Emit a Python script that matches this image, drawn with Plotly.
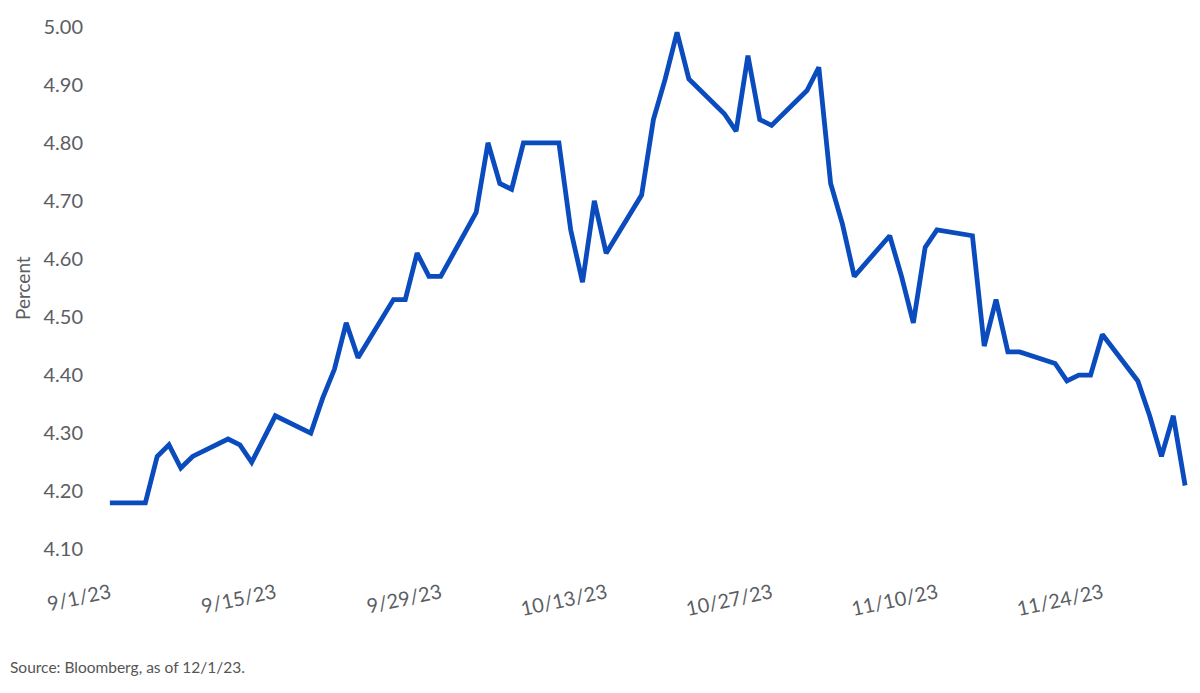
import plotly.graph_objects as go

dates = [
    "2023-09-01", "2023-09-04", "2023-09-05", "2023-09-06", "2023-09-07", "2023-09-08",
    "2023-09-11", "2023-09-12", "2023-09-13", "2023-09-14", "2023-09-15",
    "2023-09-18", "2023-09-19", "2023-09-20", "2023-09-21", "2023-09-22",
    "2023-09-25", "2023-09-26", "2023-09-27", "2023-09-28", "2023-09-29",
    "2023-10-02", "2023-10-03", "2023-10-04", "2023-10-05", "2023-10-06",
    "2023-10-09", "2023-10-10", "2023-10-11", "2023-10-12", "2023-10-13",
    "2023-10-16", "2023-10-17", "2023-10-18", "2023-10-19", "2023-10-20",
    "2023-10-23", "2023-10-24", "2023-10-25", "2023-10-26", "2023-10-27",
    "2023-10-30", "2023-10-31", "2023-11-01", "2023-11-02", "2023-11-03",
    "2023-11-06", "2023-11-07", "2023-11-08", "2023-11-09", "2023-11-10",
    "2023-11-13", "2023-11-14", "2023-11-15", "2023-11-16", "2023-11-17",
    "2023-11-20", "2023-11-21", "2023-11-22", "2023-11-23", "2023-11-24",
    "2023-11-27", "2023-11-28", "2023-11-29", "2023-11-30", "2023-12-01",
]

yields = [
    4.18, 4.18, 4.26, 4.28, 4.24, 4.26,
    4.29, 4.28, 4.25, 4.29, 4.33,
    4.30, 4.36, 4.41, 4.49, 4.43,
    4.53, 4.53, 4.61, 4.57, 4.57,
    4.68, 4.80, 4.73, 4.72, 4.80,
    4.80, 4.65, 4.56, 4.70, 4.61,
    4.71, 4.84, 4.91, 4.99, 4.91,
    4.85, 4.82, 4.95, 4.84, 4.83,
    4.89, 4.93, 4.73, 4.66, 4.57,
    4.64, 4.57, 4.49, 4.62, 4.65,
    4.64, 4.45, 4.53, 4.44, 4.44,
    4.42, 4.39, 4.40, 4.40, 4.47,
    4.39, 4.33, 4.26, 4.33, 4.21,
]

y_title = "Percent"
source_note = "Source: Bloomberg, as of 12/1/23."

TEXT = "#5b5e63"
FONT = "Lato"

fig = go.Figure()
fig.add_trace(go.Scatter(
    x=dates, y=yields, mode="lines",
    line=dict(color="#0a4bbd", width=4.8),
    hoverinfo="skip", showlegend=False,
))

fig.update_layout(
    width=1192, height=685,
    margin=dict(l=96, r=9, t=7, b=132),
    paper_bgcolor="white", plot_bgcolor="white",
    font=dict(family=FONT, size=20, color=TEXT),
    xaxis=dict(
        type="date", automargin=False,
        range=["2023-08-31 12:00", "2023-12-01 12:00"],
        tick0="2023-09-01", dtick=14 * 24 * 3600 * 1000,
        tickformat="%-m/%-d/%y", tickangle=-12,
        showgrid=False, zeroline=False, showline=False, ticks="",
        tickfont=dict(family=FONT, size=20, color=TEXT),
        ticklabelstandoff=16,
    ),
    yaxis=dict(
        automargin=False,
        range=[4.08, 5.02], tick0=4.1, dtick=0.1, tickformat=".2f",
        showgrid=False, zeroline=False, showline=False, ticks="",
        tickfont=dict(family=FONT, size=20, color=TEXT),
        ticklabelstandoff=20,
    ),
    annotations=[
        dict(text=y_title, xref="paper", yref="paper", x=0, y=0.5,
             xanchor="center", yanchor="middle", xshift=-82, textangle=-90,
             showarrow=False, font=dict(family=FONT, size=19, color=TEXT)),
        dict(text=source_note, xref="paper", yref="paper", x=0, y=0,
             xanchor="left", yanchor="middle", xshift=-96, yshift=-106,
             showarrow=False, font=dict(family=FONT, size=15.5, color="#555555")),
    ],
)

fig.write_html("out.html")
